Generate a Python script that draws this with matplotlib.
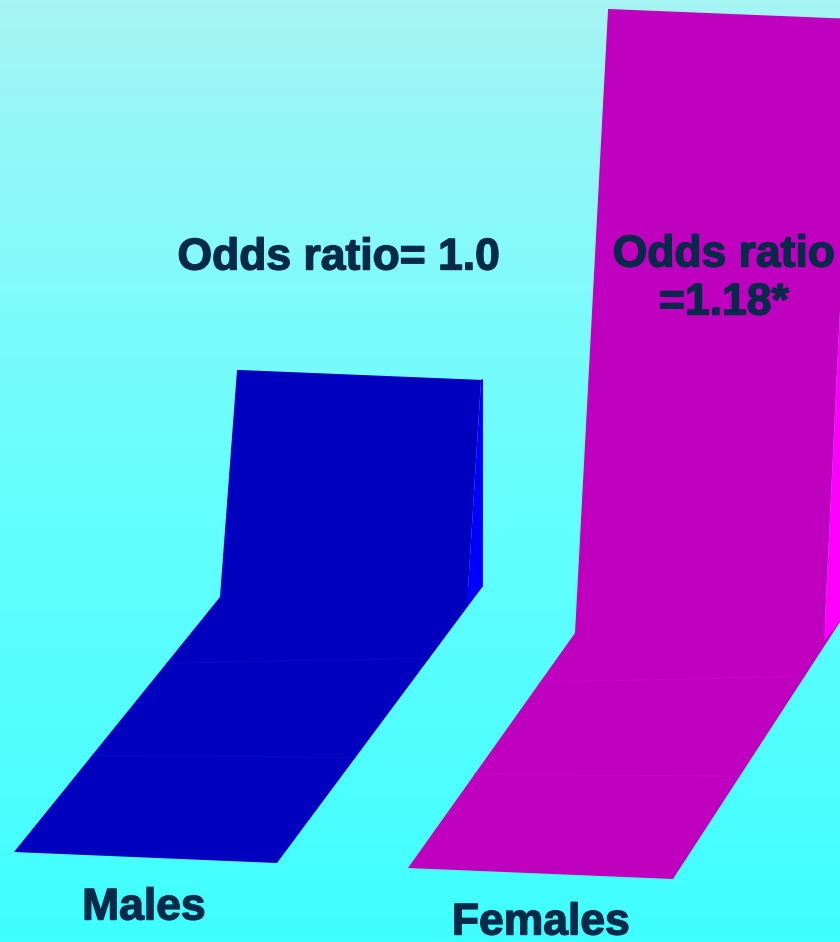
import numpy as np
import matplotlib.pyplot as plt
import matplotlib.patheffects as pe
from matplotlib.colors import LinearSegmentedColormap

# data
groups = ['Males', 'Females']
odds = [1.0, 1.18]
labels = ['Odds ratio= 1.0', 'Odds ratio\n=1.18*']

# look of the pseudo-3D ribbons
face_colors = ['#0000bf', '#bf00bf']
side_colors = ['#0000ff', '#ff00ff']
seam_colors = ['#0d0dc8', '#c40dc4']
base = 0.897        # value axis starts here
scale = 2205        # pixels per odds unit
front_left = [(14, 852), (408, 868)]
width_vec = [(263, 11), (265, 11)]
depth_vec = [(206, -255), (167, -235)]
tilt = [0.075, 0.053]
seams = [[0.38, 0.74], [0.40, 0.79]]

text_col = '#072a4a'
font = 'Liberation Sans'
bold = [pe.withStroke(linewidth=1.0, foreground=text_col)]

fig = plt.figure(figsize=(8.4, 9.42), dpi=100)
ax = fig.add_axes([0, 0, 1, 1])
ax.set_xlim(0, 840)
ax.set_ylim(942, 0)
ax.axis('off')

# background gradient
bg = LinearSegmentedColormap.from_list('bg', ['#a6f4f4', '#68fefe', '#40ffff'])
grad = np.linspace(0, 1, 256).reshape(-1, 1)
ax.imshow(grad, cmap=bg, aspect='auto', extent=[0, 840, 942, 0], zorder=0)

for i, val in enumerate(odds):
    fl = np.array(front_left[i], float)
    w = np.array(width_vec[i], float)
    d = np.array(depth_vec[i], float)
    dr = d + np.array([0, -22])
    fr = fl + w
    bl = fl + d
    br = fr + dr

    # floor
    ax.fill(*zip(fl, fr, br, bl), color=face_colors[i], lw=0, zorder=2)
    for s in seams[i]:
        p0 = fl + s * d
        p1 = fr + s * dr
        ax.plot([p0[0], p1[0]], [p0[1], p1[1]], color=seam_colors[i], lw=0.6, zorder=3)

    # wall
    h = (val - base) * scale
    tl = bl + np.array([tilt[i] * h, -h])
    tr = tl + np.array([w[0] - 19, 10])
    brf = br + np.array([-16, 19])
    ax.fill(*zip(tr, tr + np.array([2, -1]), br, brf), color=side_colors[i], lw=0, zorder=2)
    ax.fill(*zip(bl, tl, tr, brf), color=face_colors[i], lw=0, zorder=2)

# annotations
kw = dict(ha='center', va='center', fontsize=32, fontweight='bold', family=font,
          color=text_col, zorder=5, path_effects=bold)
ax.text(339, 258, labels[0], **kw)
ax.text(724, 279, labels[1], linespacing=1.22, **kw)
ax.text(144, 908, groups[0], **kw)
ax.text(541, 923, groups[1], **kw)

fig.savefig('out.png', dpi=100)
